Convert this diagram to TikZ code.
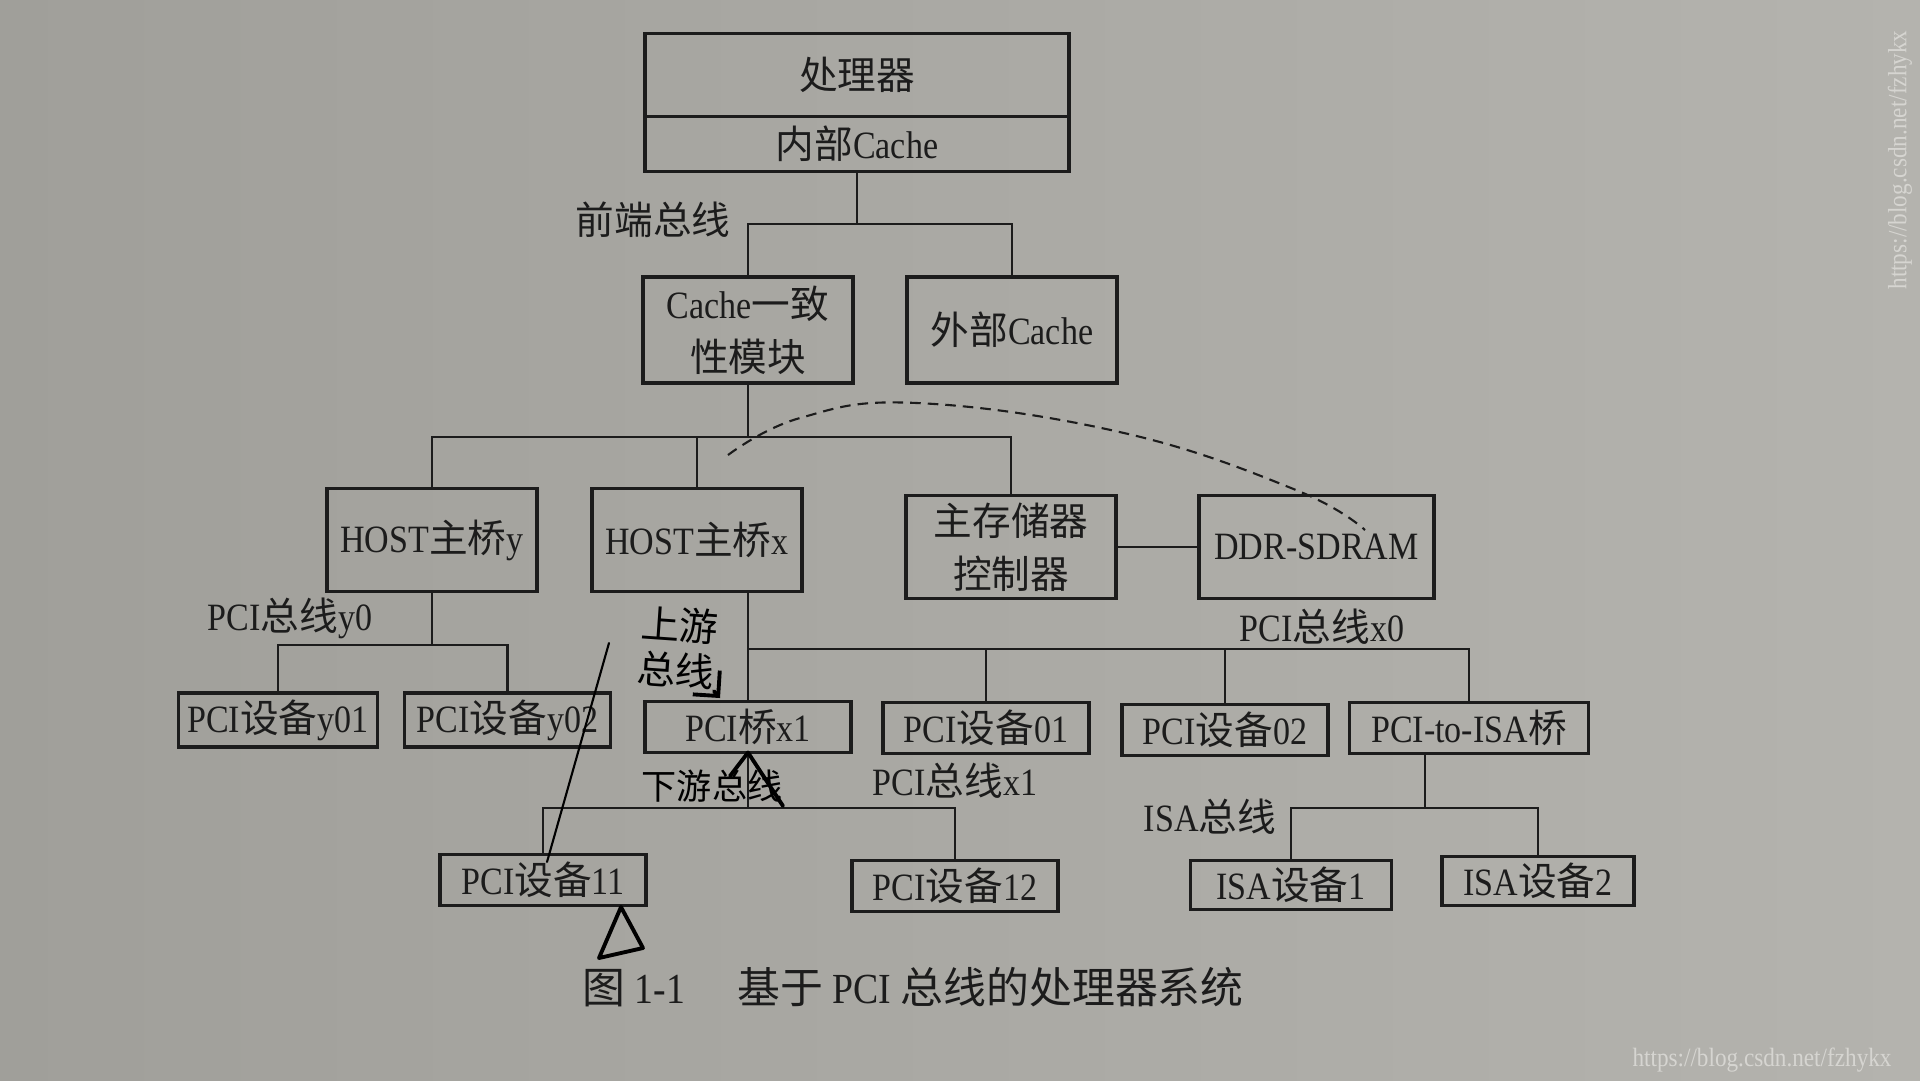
\documentclass[tikz,border=0pt]{standalone}
\usepackage{fontspec}
\setmainfont{Liberation Serif}[FakeStretch=0.88]
\newfontfamily\cjk{Noto Sans CJK SC}
\usetikzlibrary{positioning, arrows.meta}

\newcommand{\zh}[1]{{\cjk #1}}
\definecolor{paper}{RGB}{180,179,174}
\definecolor{paperdark}{RGB}{160,159,154}
\definecolor{ink}{RGB}{28,28,28}
\definecolor{mark}{RGB}{214,213,209}

\begin{document}
\begin{tikzpicture}[
  x=0.1mm, y=-0.1mm,
  box/.style={draw=ink, line width=0.9pt, inner sep=0pt, outer sep=0pt, align=center,
    text=ink, font=\fontsize{11}{15}\selectfont},
  unit/.style={box, minimum width=21mm, minimum height=10.3mm},
  dev/.style={box, minimum width=20.6mm, minimum height=5.1mm},
  bus/.style={draw=ink, line width=0.7pt},
  lbl/.style={font=\fontsize{11}{13}\selectfont, text=ink, inner sep=0pt},
  hand/.style={font=\cjk\fontsize{10}{11}\selectfont, text=black, inner sep=0pt},
  pen/.style={draw=black, line width=1.1pt, line cap=round, line join=round}
]

% paper
\shade[left color=paperdark, right color=paper] (0,0) rectangle (1920,1080);
\useasboundingbox (0,0) rectangle (1920,1080);

% Processor
\node[box, minimum width=42.4mm, minimum height=8.3mm] (proc) at (857,75) {\zh{处理器}};
\node[box, minimum width=42.4mm, minimum height=5.5mm, below=0pt of proc] (icache) {\zh{内部}Cache};

% Cache level
\node[unit, minimum height=10.6mm] (cache) at (748,330) {Cache\zh{一致}\\\zh{性模块}};
\node[unit, minimum height=10.6mm, right=5.4mm of cache] (ext) {\zh{外部}Cache};

% Host bridges and memory
\node[unit] (hosty) at (432,540) {HOST\zh{主桥}y};
\node[unit, right=5.5mm of hosty] (hostx) {HOST\zh{主桥}x};
\node[unit] (memctl) at (1011,547) {\zh{主存储器}\\\zh{控制器}};
\node[unit, minimum width=23.5mm, right=8.3mm of memctl] (ddr) {DDR-SDRAM};

% PCI devices
\node[dev, minimum width=19.9mm, minimum height=5.4mm] (y01) at (278,720) {PCI\zh{设备}y01};
\node[dev, minimum height=5.4mm, right=2.7mm of y01] (y02) {PCI\zh{设备}y02};
\node[dev] (bridge) at (748,727) {PCI\zh{桥}x1};
\node[dev] (dev01) at (986,728) {PCI\zh{设备}01};
\node[dev] (dev02) at (1225,730) {PCI\zh{设备}02};
\node[dev, minimum width=23.9mm] (isabr) at (1469,728) {PCI-to-ISA\zh{桥}};
\node[dev] (dev11) at (543,880) {PCI\zh{设备}11};
\node[dev] (dev12) at (955,886) {PCI\zh{设备}12};
\node[dev, minimum width=20.1mm, minimum height=4.9mm] (isa1) at (1291,885) {ISA\zh{设备}1};
\node[dev, minimum width=19.2mm, minimum height=4.9mm] (isa2) at (1538,881) {ISA\zh{设备}2};

% Bus labels
\node[lbl] (fsblbl) at (653,220) {\zh{前端总线}};
\node[lbl] (y0lbl) at (290,618) {PCI\zh{总线}y0};
\node[lbl] (x0lbl) at (1322,627) {PCI\zh{总线}x0};
\node[lbl] (x1lbl) at (955,781) {PCI\zh{总线}x1};
\node[lbl] (isalbl) at (1210,817) {ISA\zh{总线}};
\node[lbl, font=\fontsize{12.2}{14}\selectfont] (caption) at (913,987)
  {\zh{图} 1-1\quad\ \zh{基于} PCI \zh{总线的处理器系统}};

% Buses
\coordinate (fsb) at (icache.south |- 0,224);
\draw[bus] (icache.south) -- (fsb);
\draw[bus] (cache.north) |- (fsb) -| (ext.north);

\coordinate (sysbus) at (cache.south |- 0,437);
\draw[bus] (cache.south) -- (sysbus);
\draw[bus] (hosty.north) |- (sysbus) -| (memctl.north);
\draw[bus] (hostx.north) -- (hostx.north |- sysbus);
\draw[bus] (memctl) -- (ddr);

\coordinate (y0bus) at (hosty.south |- 0,645);
\draw[bus] (hosty.south) -- (y0bus);
\draw[bus] (y01.north) |- (y0bus) -| (y02.north);

\coordinate (x0bus) at (bridge.north |- 0,649);
\draw[bus] (hostx.south -| bridge.north) -- (bridge.north);
\draw[bus] (x0bus) -| (isabr.north);
\draw[bus] (dev01.north) -- (dev01.north |- x0bus);
\draw[bus] (dev02.north) -- (dev02.north |- x0bus);

\coordinate (x1bus) at (bridge.south |- 0,808);
\draw[bus] (bridge.south) -- (x1bus);
\draw[bus] (dev11.north) |- (x1bus) -| (dev12.north);

\coordinate (isabus) at (1425,808);
\draw[bus] (isabr.south -| isabus) -- (isabus);
\draw[bus] (isa1.north) |- (isabus) -| (isa2.north);

% Pen notes
\node[hand, font=\cjk\fontsize{11}{12}\selectfont, rotate=-4] (upnote) at (680,625) {\zh{上游}};
\node[hand, font=\cjk\fontsize{11}{12}\selectfont, rotate=-4] (upnote2) at (676,670) {\zh{总线}};
\node[hand] (downnote) at (712,786) {\zh{下游总线}};
\coordinate (uptip) at (720,698);
\draw[pen, -{Straight Barb[length=1.8mm]}] (upnote2.south east) -- (uptip);
\draw[pen] (730,776) -- (bridge.south) -- (783,806);

\coordinate (slantstart) at (609,643);
\coordinate (slantend) at (547,862);
\draw[pen, line width=0.6pt] (slantstart) -- (slantend);

\draw[pen] (621,907) -- (599,958) -- (643,948) -- cycle;

\draw[ink, densely dashed, line width=0.6pt] plot[smooth, tension=0.7]
  coordinates {(728,455) (800,418) (917,403) (1124,433) (1296,490) (1365,530)};

% Watermarks
\node[font=\fontsize{7.5}{8}\selectfont, text=mark, rotate=90] (wmside) at (1900,160) {https://blog.csdn.net/fzhykx};
\node[font=\fontsize{7.5}{8}\selectfont, text=mark] (wmfoot) at (1762,1060) {https://blog.csdn.net/fzhykx};

\end{tikzpicture}
\end{document}
